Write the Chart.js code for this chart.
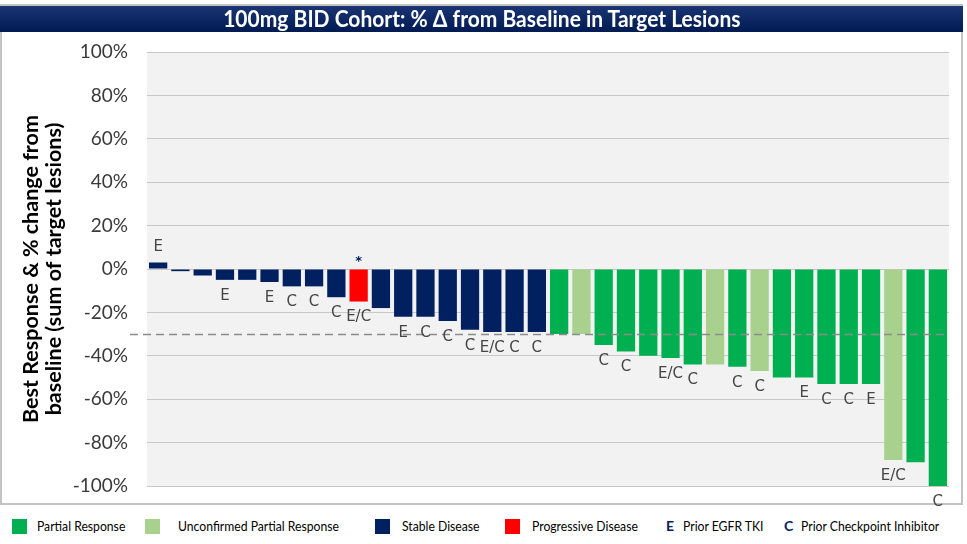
<!DOCTYPE html>
<html><head><meta charset="utf-8">
<script src="https://cdn.jsdelivr.net/npm/chart.js@4.4.1/dist/chart.umd.min.js"></script>
<style>
html,body{margin:0;padding:0;background:#fff;width:967px;height:544px;overflow:hidden;position:relative}
#frame{position:absolute;left:0;top:4px;width:963px;height:501px;border:2px solid #c3c3c3;box-sizing:border-box}
#title{position:absolute;left:0;top:6px;width:963px;height:26px;background:linear-gradient(#1a3573,#001a52);z-index:2;text-align:center}
#title span{display:inline-block;color:#fff;font:bold 22px 'Lato',sans-serif;line-height:26px;transform:scaleX(0.955);transform-origin:center}
#chart{position:absolute;left:0;top:0;z-index:1}
.leg{position:absolute;top:517px;height:20px;line-height:20px;font:14px 'Lato',sans-serif;color:#000;white-space:nowrap;transform:scaleX(0.87);transform-origin:left center}
.mk{font-weight:bold;color:#002060;transform:none}
.sw{position:absolute;top:519px;width:15px;height:15px}
</style>
</head><body>
<div id="frame"></div>
<div id="title"><span>100mg BID Cohort: % Δ from Baseline in Target Lesions</span></div>
<canvas id="chart" width="967" height="544"></canvas>

<div class="sw" style="left:12px;background:#00b050"></div><div class="leg" style="left:37px">Partial Response</div>
<div class="sw" style="left:145px;background:#a9d18e"></div><div class="leg" style="left:178px">Unconfirmed Partial Response</div>
<div class="sw" style="left:375px;background:#002060"></div><div class="leg" style="left:402px">Stable Disease</div>
<div class="sw" style="left:505px;background:#ff0000"></div><div class="leg" style="left:532px">Progressive Disease</div>
<div class="leg mk" style="left:666px">E</div><div class="leg" style="left:683px">Prior EGFR TKI</div>
<div class="leg mk" style="left:784px">C</div><div class="leg" style="left:801px">Prior Checkpoint Inhibitor</div>

<script>
// ---- data ----
const patients = ['1','2','3','4','5','6','7','8','9','10','11','12','13','14','15','16','17','18',
                  '19','20','21','22','23','24','25','26','27','28','29','30','31','32','33','34','35','36'];
const changePct = [3, -1, -3, -5, -5, -6, -8, -8, -13, -15, -18, -22, -22, -24, -28, -29, -29, -29,
                   -30, -30, -35, -38, -40, -41, -44, -44, -45, -47, -50, -50, -53, -53, -53, -88, -89, -100];
const bestResponse = ['SD','SD','SD','SD','SD','SD','SD','SD','SD','PD','SD','SD','SD','SD','SD','SD','SD','SD',
                      'PR','uPR','PR','PR','PR','PR','PR','uPR','PR','uPR','PR','PR','PR','PR','PR','uPR','PR','PR'];
const priorTherapy = ['E','','','E','','E','C','C','C','E/C','','E','C','C','C','E/C','C','C',
                      '','','C','C','','E/C','C','','C','C','','E','C','C','E','E/C','','C'];
const notes = ['','','','','','','','','','*','','','','','','','','',
               '','','','','','','','','','','','','','','','','',''];
const yTicks = [-100, -80, -60, -40, -20, 0, 20, 40, 60, 80, 100];
const threshold = -30;

const responseColors = {PR:'#00b050', uPR:'#a9d18e', SD:'#002060', PD:'#ff0000'};

const overlay = {
  id:'overlay',
  beforeDraw(chart){
    const {ctx, chartArea:a} = chart;
    ctx.save(); ctx.fillStyle='#f2f2f2';
    ctx.fillRect(a.left, a.top, a.right-a.left, a.bottom-a.top);
    ctx.restore();
  },
  afterDatasetsDraw(chart){
    const {ctx, chartArea:a, scales:{y}} = chart;
    const meta = chart.getDatasetMeta(0);
    const ty = Math.round(y.getPixelForValue(threshold)) + 0.5;
    ctx.save();
    ctx.strokeStyle='#8c8c8c'; ctx.lineWidth=1.5; ctx.setLineDash([8,5]);
    ctx.beginPath(); ctx.moveTo(a.left-17, ty); ctx.lineTo(a.right, ty); ctx.stroke();
    ctx.setLineDash([]);
    ctx.font='15px "DejaVu Sans", sans-serif'; ctx.fillStyle='#454545';
    ctx.textAlign='center'; ctx.textBaseline='middle';
    meta.data.forEach((bar,i)=>{
      const m = priorTherapy[i]; if(!m) return;
      const yy = changePct[i] >= 0 ? bar.y - 15 : bar.y + 16;
      ctx.fillText(m, bar.x, yy);
    });
    ctx.fillStyle='#002060'; ctx.font='bold 13px "DejaVu Sans", sans-serif';
    const zero = y.getPixelForValue(0);
    meta.data.forEach((bar,i)=>{ if(notes[i]) ctx.fillText(notes[i], bar.x, zero - 7); });
    ctx.restore();
  }
};

new Chart(document.getElementById('chart'), {
  type:'bar',
  data:{
    labels: patients,
    datasets:[{
      data: changePct,
      backgroundColor: bestResponse.map(r=>responseColors[r]),
      borderWidth:0,
      barPercentage:0.82,
      categoryPercentage:1
    }]
  },
  options:{
    responsive:false, animation:false, devicePixelRatio:1,
    layout:{padding:{top:52, bottom:58, right:18, left:0}},
    plugins:{legend:{display:false}, tooltip:{enabled:false}, title:{display:false}},
    scales:{
      x:{display:false},
      y:{
        min:-100, max:100,
        afterFit(s){ s.width = 147; },
        afterBuildTicks(s){ s.ticks = yTicks.map(v=>({value:v})); },
        grid:{color:'#c8c8c8', drawTicks:false, lineWidth:1},
        border:{display:false},
        ticks:{padding:19, color:'#3a3a3a', font:{family:'Lato', size:19},
               callback:v=>v+'%'},
        title:{display:true, text:['Best Response & % change from','baseline (sum of target lesions)'],
               color:'#000', font:{family:'Lato', size:21.5, weight:'bold', lineHeight:1.1},
               padding:{top:19, bottom:0}}
      }
    }
  },
  plugins:[overlay]
});
</script>
</body></html>
